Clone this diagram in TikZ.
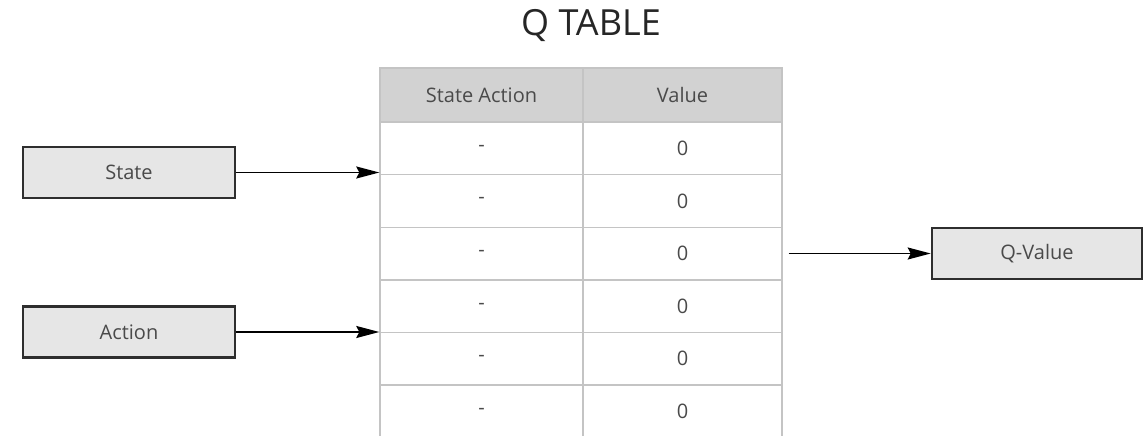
\documentclass[tikz,border=0pt]{standalone}
\usepackage{fontspec}
\setmainfont{Open Sans}
\usetikzlibrary{arrows.meta}
\definecolor{boxfill}{HTML}{E6E6E6}
\definecolor{boxline}{HTML}{2E2E2E}
\definecolor{headfill}{HTML}{D2D2D2}
\definecolor{gridline}{HTML}{C4C4C4}
\definecolor{txt}{HTML}{4A4A4A}
\begin{document}
\begin{tikzpicture}[x=1pt,y=-1pt,
  inbox/.style={draw=boxline, line width=2.6pt, fill=boxfill, text=txt,
    minimum height=51pt, inner sep=0pt, font=\fontsize{20}{20}\selectfont},
  cell/.style={draw=gridline, line width=1.4pt, text=txt, inner sep=0pt,
    minimum height=52.6pt, font=\fontsize{20}{20}\selectfont},
  lcell/.style={cell, minimum width=203pt},
  rcell/.style={cell, minimum width=199pt},
  head/.style={fill=headfill, minimum height=54pt},
  arr/.style={line width=1.6pt, -{Stealth[length=23pt, width=12pt, inset=3pt]}}]
\useasboundingbox (0,0) rectangle (1144,436);
\clip (0,0) rectangle (1144,436);

% title
\node[text=black!85, font=\fontsize{36}{36}\selectfont] (title) at (591,26) {Q TABLE};

% table header
\node[lcell, head] (h0) at (481.5,95) {State Action};
\node[rcell, head] (v0) at (682.5,95) {Value};

% table rows
\foreach \i/\yy in {1/148.3, 2/200.9, 3/253.5, 4/306.1, 5/358.7, 6/411.3} {
  \node[lcell] (h\i) at (481.5,\yy) {-};
  \node[rcell] (v\i) at (682.5,\yy) {0};
}

% input and output boxes
\node[inbox, minimum width=212pt] (state) at (129,172.5) {State};
\node[inbox, minimum width=212pt] (action) at (129,332) {Action};
\node[inbox, minimum width=210pt] (qv) at (1037,253.5) {Q-Value};

% connectors
\draw[arr] (state.east) -- (state.east -| h1.west);
\draw[arr] (action.east) -- (action.east -| h4.west);
\draw[arr, shorten <=6pt] (qv.west -| v3.east) -- (qv.west);
\end{tikzpicture}
\end{document}
